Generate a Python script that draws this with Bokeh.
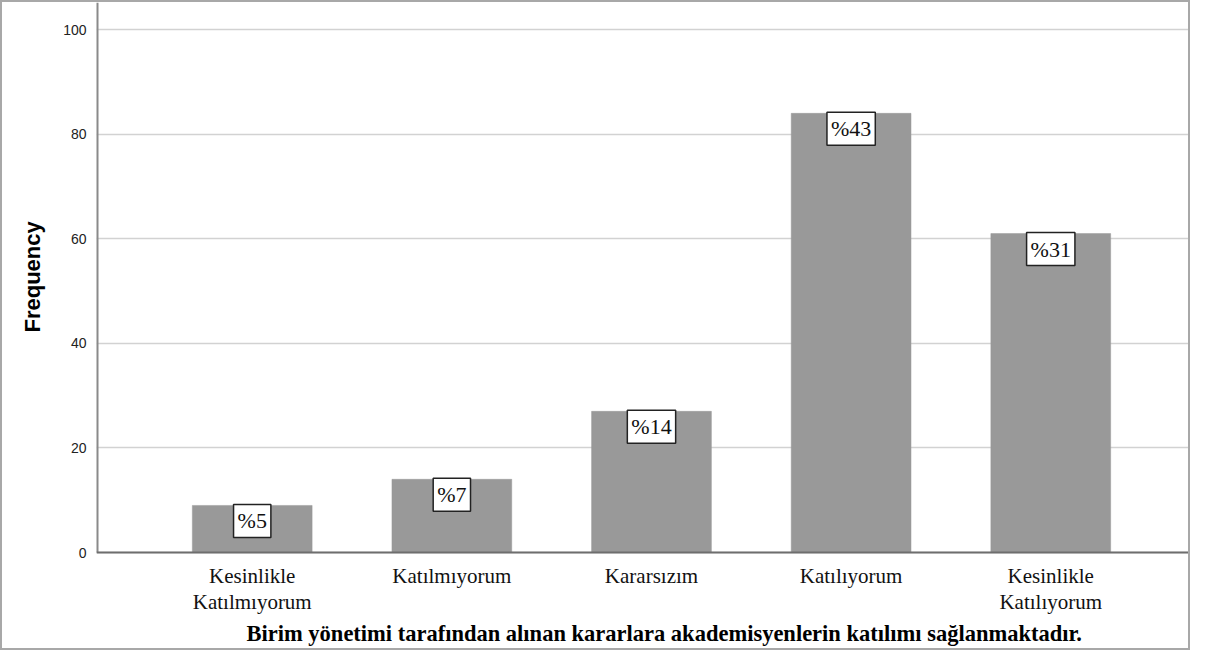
from bokeh.plotting import figure
from bokeh.models import Range1d, FixedTicker, Label, ColumnDataSource, Span, Title
from bokeh.embed import file_html
from bokeh.resources import INLINE

categories = ["Kesinlikle\nKatılmıyorum", "Katılmıyorum", "Kararsızım", "Katılıyorum", "Kesinlikle\nKatılıyorum"]
frequencies = [9, 14, 27, 84, 61]
percent_labels = ["%5", "%7", "%14", "%43", "%31"]
y_ticks = [0, 20, 40, 60, 80, 100]
x_title = "Birim yönetimi tarafından alınan kararlara akademisyenlerin katılımı sağlanmaktadır."
y_title = "Frequency"

positions = list(range(1, len(categories) + 1))

# value axis spans 0..y_top; the frame extends below 0 to hold the category names
y_top = 105.2
y_bottom = -12.05
x_start, x_end = 0.22, 5.71

p = figure(width=1186, height=646, output_backend="svg", toolbar_location=None,
           x_range=Range1d(x_start, x_end), y_range=Range1d(y_bottom, y_top),
           x_axis_location=None,
           min_border_left=91, min_border_right=0, min_border_top=0, min_border_bottom=37)
p.styles = {"border": "2px solid #a8a8a8", "box-sizing": "content-box"}
p.background_fill_color = "white"
p.border_fill_color = "white"
p.outline_line_color = None

# grid
p.xgrid.grid_line_color = None
p.ygrid.grid_line_color = "#d2d2d2"
p.ygrid.grid_line_width = 1.5
p.ygrid.ticker = FixedTicker(ticks=y_ticks)

src = ColumnDataSource(dict(x=positions, top=frequencies))
p.vbar(x="x", top="top", width=0.6, bottom=0, source=src,
       fill_color="#999999", line_color="#999999", line_width=0.5)

# value axis line (stops at 0) and category axis line at 0
p.segment(x0=[x_start], y0=[0], x1=[x_start], y1=[y_top], line_color="#8a8a8a", line_width=4)
p.add_layout(Span(location=0, dimension="width", line_color="#6e6e6e", line_width=2))

for xi, v, t in zip(positions, frequencies, percent_labels):
    p.add_layout(Label(x=xi, y=v, text=t, text_align="center", text_baseline="top",
                       y_offset=1, text_font="Liberation Serif", text_font_size="22px",
                       text_color="#111111", background_fill_color="white",
                       border_line_color="#222222", border_line_width=1.5, padding=4))

# category names under the bars (serif, multi-line)
for xi, c in zip(positions, categories):
    p.add_layout(Label(x=xi, y=0, text=c, text_align="center", text_baseline="top",
                       y_offset=-11, text_font="Liberation Serif", text_font_size="21px",
                       text_color="#111111", text_line_height=1.1))

# y axis
p.yaxis.ticker = FixedTicker(ticks=y_ticks)
p.yaxis.axis_line_color = None
p.yaxis.major_tick_line_color = None
p.yaxis.minor_tick_line_color = None
p.yaxis.major_label_text_font = "Liberation Sans"
p.yaxis.major_label_text_font_size = "14px"
p.yaxis.major_label_text_color = "#222222"
p.yaxis.major_label_standoff = 4

p.add_layout(Title(text=y_title, align="left", offset=283, standoff=31,
                   text_font="Liberation Sans", text_font_style="bold",
                   text_font_size="22px", text_color="#000000"), "left")
p.add_layout(Title(text=x_title, align="left", offset=150, standoff=6,
                   text_font="Liberation Serif", text_font_style="bold",
                   text_font_size="22.5px", text_color="#000000"), "below")

open("out.html", "w").write(file_html(p, INLINE))
